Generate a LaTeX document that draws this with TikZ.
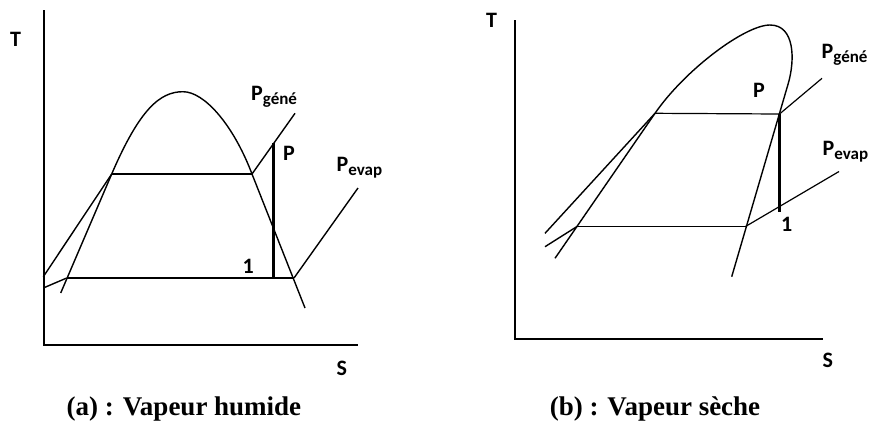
\documentclass[tikz,border=0pt]{standalone}
\usepackage{fontspec}
\newfontfamily\lblfont{Carlito}[BoldFont=* Bold]
\newfontfamily\capfont{Liberation Serif}
\tikzset{
  x=1pt, y=-1pt,
  curve/.style={line width=1.4pt, line join=round},
  thin line/.style={line width=1.2pt},
  thickv/.style={line width=3pt},
  axis/.style={line width=1.4pt},
  lbl/.style={inner sep=0pt, anchor=base west, font=\lblfont\bfseries\fontsize{22}{22}\selectfont},
  caption/.style={inner sep=0pt, anchor=base, font=\capfont\bfseries\fontsize{27}{27}\selectfont},
}
\newcommand{\Psub}[1]{P\raisebox{-4pt}{\fontsize{17}{17}\selectfont #1}}
\begin{document}
\begin{tikzpicture}
\useasboundingbox (0,0) rectangle (872,421);
% ---------- (a) ----------
\coordinate (aO) at (44,345);
\coordinate (aYt) at (44,10);
\coordinate (aXr) at (358,345);
\draw[axis] (aYt) -- (aO) -- (aXr);
\coordinate (aD0) at (60.7,293);
\coordinate (aDtop) at (183,91.7);
\coordinate (aDend) at (305,308);
\coordinate (aG0) at (43.3,276.7);
\coordinate (aG1) at (111.7,174);
\coordinate (aG2) at (252,174);
\coordinate (aG3) at (295,113.3);
\coordinate (aE0) at (43.3,288);
\coordinate (aE1) at (66.7,278);
\coordinate (aE2) at (294,278);
\coordinate (aE3) at (358,188);
\coordinate (aT1) at (273.3,143);
\coordinate (aT2) at (273.3,278);
\draw[curve] (aD0) -- (aG1) .. controls (139.7,109) and (160,91.7) .. (aDtop)
  .. controls (204,91.7) and (233,124) .. (aG2) -- (aDend);
\draw[curve] (aG0) -- (aG1);
\draw[thin line] (aG1) -- (aG2);
\draw[curve] (aG2) -- (aG3);
\draw[curve] (aE0) -- (aE1);
\draw[thin line] (aE1) -- (aE2);
\draw[curve] (aE2) -- (aE3);
\draw[thickv] (aT1) -- (aT2);
\node[lbl] (aT) at (10,46) {T};
\node[lbl] (aS) at (336.5,375) {S};
\node[lbl] (aPg) at (251,100) {\Psub{géné}};
\node[lbl] (aP) at (283,160) {P};
\node[lbl] (aPe) at (336.5,171.5) {\Psub{evap}};
\node[lbl] (a1) at (242.5,273.3) {1};
\node[caption] (capa) at (184,415) {(a) : Vapeur humide};
% ---------- (b) ----------
\coordinate (bO) at (515,339);
\coordinate (bYt) at (515,20);
\coordinate (bXr) at (823,339);
\draw[axis] (bYt) -- (bO) -- (bXr);
\coordinate (bD0) at (555,258.3);
\coordinate (bDtop) at (770,25);
\coordinate (bDr) at (788.3,83.3);
\coordinate (bDend) at (731.7,276.7);
\coordinate (bG0) at (545,233.3);
\coordinate (bG1) at (655,113.3);
\coordinate (bG2) at (779.5,114);
\coordinate (bG3) at (822,78.3);
\coordinate (bE0) at (545,246.7);
\coordinate (bE1) at (577,226.5);
\coordinate (bE2) at (745.5,226.5);
\coordinate (bE3) at (839,171.5);
\coordinate (bT1) at (779,114);
\coordinate (bT2) at (779,212);
\draw[curve] (bD0) -- (bG1) .. controls (685,69.8) and (745,25) .. (bDtop)
  .. controls (795,25) and (795,60) .. (bDr) -- (bDend);
\draw[curve] (bG0) -- (bG1);
\draw[thin line] (bG1) -- (bG2);
\draw[thin line] (bG2) -- (bG3);
\draw[curve] (bE0) -- (bE1);
\draw[thin line] (bE1) -- (bE2);
\draw[thin line] (bE2) -- (bE3);
\draw[thickv] (bT1) -- (bT2);
\node[lbl] (bT) at (486,27) {T};
\node[lbl] (bS) at (822.5,367) {S};
\node[lbl] (bPg) at (821.5,58) {\Psub{géné}};
\node[lbl] (bP) at (753,97) {P};
\node[lbl] (bPe) at (822.5,155) {\Psub{evap}};
\node[lbl] (b1) at (781,231.7) {1};
\node[caption] (capb) at (655,415) {(b) : Vapeur sèche};
\end{tikzpicture}
\end{document}
